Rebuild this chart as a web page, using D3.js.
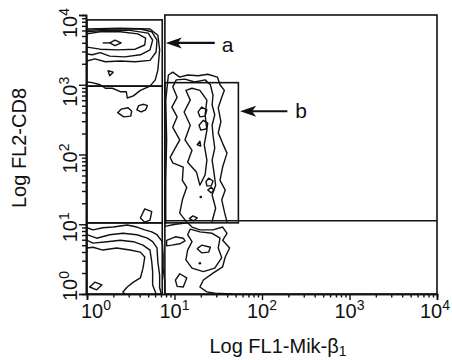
<!DOCTYPE html>
<html><head><meta charset="utf-8">
<script src="https://cdn.jsdelivr.net/npm/d3@7"></script>
<style>html,body{margin:0;padding:0;background:#fff;} svg{display:block;font-family:"Liberation Sans",Arial,sans-serif;}</style>
</head><body><svg id="c" width="452" height="360"></svg>
<script>
// ---- axes (log10 units) ----
const decades = [0, 1, 2, 3, 4];
const exponentLabels = ["0", "1", "2", "3", "4"];
const minorFactors = [2, 3, 4, 5, 6, 7, 8, 9];
const xTitle = "Log FL1-Mik-β";
const xTitleSub = "1";
const yTitle = "Log FL2-CD8";

// ---- gates [x0, x1, y0, y1] in log10 units ----
const gates = [
  [0, 0.86, 2.98, 3.93],   // a
  [0, 0.86, 1.02, 2.98],
  [0, 0.86, 0, 1.02],
  [0.89, 1.73, 1.02, 3.03], // b
  [0.89, 4.0, 0, 4.0]
];
const gateLine = [[0.89, 1.05], [4.0, 1.05]];

// ---- annotations ----
const arrowLabels = ["a", "b"];
const arrowY = [3.60, 2.62];
const arrowFrom = [1.46, 2.29];
const arrowTo = [0.90, 1.75];
const labelX = [1.54, 2.38];
const labelY = [3.47, 2.52];

// ---- contour lines (log10 FL1, log10 FL2) ----
const openContours = [
  // population a
  [[0,3.73],[0.15,3.76],[0.38,3.76],[0.58,3.73],[0.67,3.67],[0.66,3.57],[0.55,3.51],[0.35,3.50],[0.15,3.51],[0,3.54]],
  [[0,3.76],[0.21,3.78],[0.49,3.78],[0.70,3.74],[0.75,3.64],[0.72,3.50],[0.61,3.43],[0.43,3.40],[0.26,3.41],[0.15,3.46],[0.06,3.43],[0,3.44]],
  [[0,3.78],[0.26,3.80],[0.61,3.80],[0.74,3.76],[0.80,3.64],[0.79,3.47],[0.72,3.35],[0.55,3.33],[0.38,3.34],[0.21,3.33],[0.09,3.37],[0,3.34]],
  [[0,3.80],[0.38,3.81],[0.72,3.80],[0.81,3.71],[0.83,3.50],[0.81,3.21],[0.78,3.07],[0.72,2.98],[0.61,2.92],[0.53,2.84],[0.46,2.81],[0.45,2.90],[0.38,2.90],[0.29,2.95],[0.21,2.95],[0.15,3.00],[0.06,3.03],[0,3.04]],
  [[0.18,3.60],[0.26,3.60]],
  // population b
  [[0.90,1.00],[0.90,1.63],[0.91,2.21],[0.90,2.78],[0.93,3.14],[0.98,3.18],[1.06,3.11],[1.15,3.14],[1.27,3.13],[1.38,3.15],[1.49,3.11],[1.52,3.00],[1.57,2.92],[1.54,2.82],[1.50,2.67],[1.53,2.47],[1.50,2.31],[1.55,2.16],[1.60,2.02],[1.55,1.82],[1.52,1.63],[1.58,1.49],[1.54,1.35],[1.57,1.18],[1.60,1.03]],
  [[1.14,1.03],[1.06,1.16],[1.09,1.35],[1.14,1.53],[1.09,1.63],[1.10,1.82],[0.98,1.88],[0.95,1.96],[1.06,2.21],[0.98,2.39],[1.03,2.54],[0.97,2.68],[1.03,2.82],[0.98,2.97],[1.02,3.07],[1.12,3.08],[1.23,3.04],[1.35,3.07],[1.41,3.00],[1.44,2.85],[1.43,2.71],[1.46,2.57],[1.43,2.42],[1.44,2.28],[1.46,2.09],[1.43,1.92],[1.45,1.75],[1.47,1.56],[1.43,1.42],[1.47,1.23],[1.44,1.09],[1.43,1.03]],
  // double negative, bottom left
  [[0,0.95],[0.07,0.92],[0.18,0.95],[0.30,0.96],[0.46,0.99],[0.57,0.96],[0.66,0.92],[0.74,0.89],[0.80,0.85],[0.86,0.75],[0.87,0.56],[0.87,0.37],[0.89,0.17],[0.89,0]],
  [[0,0.85],[0.11,0.80],[0.26,0.85],[0.41,0.87],[0.57,0.85],[0.69,0.80],[0.75,0.75],[0.80,0.66],[0.81,0.46],[0.83,0.27],[0.83,0.09],[0.85,0]],
  [[0,0.77],[0.07,0.73],[0.23,0.75],[0.38,0.77],[0.53,0.75],[0.64,0.70],[0.72,0.63],[0.74,0.46],[0.75,0.32],[0.75,0.13],[0.79,0]],
  [[0,0.66],[0.07,0.67],[0.18,0.63],[0.34,0.66],[0.49,0.63],[0.61,0.60],[0.66,0.53],[0.64,0.37],[0.61,0.23],[0.53,0.17],[0.46,0.10],[0.41,0.03],[0.43,0]],
  // bottom, right of gate
  [[0.89,0.97],[1.01,1.00],[1.15,1.02],[1.20,0.96],[1.29,0.92],[1.44,0.92],[1.55,0.96],[1.60,0.87],[1.55,0.77],[1.63,0.66],[1.58,0.53],[1.55,0.39],[1.44,0.30],[1.33,0.20],[1.29,0.10],[1.37,0.03],[1.46,0.01],[1.66,0]]
];
const closedContours = [
  [[0.26,3.60],[0.32,3.64],[0.39,3.60],[0.32,3.56]],
  [[0.24,3.20],[0.30,3.18],[0.26,3.13]],
  [[0.35,2.60],[0.39,2.65],[0.47,2.67],[0.51,2.62],[0.50,2.55],[0.42,2.54]],
  [[0.57,2.64],[0.59,2.70],[0.65,2.72],[0.69,2.70],[0.67,2.64],[0.62,2.61]],
  [[0.61,1.09],[0.66,1.22],[0.74,1.18],[0.72,1.06],[0.66,1.03]],
  [[1.13,2.92],[1.18,2.78],[1.11,2.61],[1.18,2.42],[1.12,2.21],[1.20,2.06],[1.15,1.89],[1.25,1.75],[1.29,1.56],[1.35,1.71],[1.37,1.92],[1.34,2.14],[1.37,2.35],[1.35,2.57],[1.37,2.78],[1.29,2.92],[1.20,2.95]],
  [[1.27,2.61],[1.31,2.68],[1.37,2.64],[1.35,2.55],[1.29,2.54]],
  [[1.28,2.42],[1.33,2.49],[1.38,2.45],[1.37,2.37],[1.30,2.35]],
  [[1.36,1.61],[1.39,1.66],[1.44,1.62],[1.42,1.55],[1.37,1.55]],
  [[1.38,1.49],[1.42,1.53],[1.45,1.49],[1.42,1.45]],
  [[1.26,2.14],[1.29,2.19],[1.30,2.12]],
  [[1.17,1.08],[1.21,1.12],[1.26,1.09],[1.22,1.05]],
  [[0.03,0.10],[0.09,0.17],[0.17,0.13],[0.11,0.06]],
  [[1.18,0.93],[1.29,0.89],[1.43,0.87],[1.52,0.80],[1.50,0.66],[1.54,0.52],[1.46,0.37],[1.33,0.32],[1.20,0.37],[1.13,0.49],[1.15,0.63],[1.20,0.75],[1.15,0.85]],
  [[1.26,0.65],[1.31,0.70],[1.41,0.67],[1.39,0.60],[1.31,0.59]],
  [[1.01,0.20],[1.06,0.29],[1.14,0.23],[1.10,0.10],[1.03,0.11]],
  [[0.91,0.77],[1.01,0.82],[1.10,0.80],[1.12,0.76],[1.06,0.72],[0.97,0.70],[0.91,0.69]]
];
const dots = [[1.29,0.44],[1.30,1.39]];

// ---- drawing ----
const svg = d3.select("#c");
const x = d3.scaleLinear().domain([0, 4]).range([87, 437]);
const y = d3.scaleLinear().domain([0, 4]).range([294, 15]);
const ink = "#111";

const lineOpen = d3.line().x(d => x(d[0])).y(d => y(d[1]));
const lineClosed = d3.line().x(d => x(d[0])).y(d => y(d[1])).curve(d3.curveLinearClosed);

const g = svg.append("g");
g.selectAll("path.co").data(openContours).join("path")
  .attr("d", lineOpen).attr("fill", "none").attr("stroke", ink).attr("stroke-width", 1.4).attr("stroke-linejoin", "round");
g.selectAll("path.cc").data(closedContours).join("path")
  .attr("d", lineClosed).attr("fill", "none").attr("stroke", ink).attr("stroke-width", 1.4).attr("stroke-linejoin", "round");
g.selectAll("circle").data(dots).join("circle")
  .attr("cx", d => x(d[0])).attr("cy", d => y(d[1])).attr("r", 1.3).attr("fill", ink);

// gates
svg.selectAll("rect.gate").data(gates).join("rect")
  .attr("x", d => x(d[0])).attr("y", d => y(d[3]))
  .attr("width", d => x(d[1]) - x(d[0])).attr("height", d => y(d[2]) - y(d[3]))
  .attr("fill", "none").attr("stroke", ink).attr("stroke-width", 1.6);
svg.append("path").attr("d", lineOpen(gateLine)).attr("stroke", ink).attr("stroke-width", 1.6);

// axes
const xAxis = d3.axisBottom(x).tickValues(decades).tickSize(6).tickFormat("");
const yAxis = d3.axisLeft(y).tickValues(decades).tickSize(7).tickFormat("");
const minors = [];
decades.slice(0, -1).forEach(dd => minorFactors.forEach(f => minors.push(dd + Math.log10(f))));
const xAxisMinor = d3.axisBottom(x).tickValues(minors).tickSize(3.5).tickFormat("");
const yAxisMinor = d3.axisLeft(y).tickValues(minors).tickSize(4).tickFormat("");
[[xAxis, "translate(0,294)"], [xAxisMinor, "translate(0,294)"], [yAxis, "translate(86,0)"], [yAxisMinor, "translate(86,0)"]].forEach(([ax, tr]) => {
  const a = svg.append("g").attr("transform", tr).call(ax);
  a.selectAll("path.domain").attr("stroke", ink).attr("stroke-width", 1.6);
  a.selectAll(".tick line").attr("stroke", ink).attr("stroke-width", 1.4);
});

// tick labels 10^n
const xLabelShift = [9, 0, 0, 0, -2];
decades.forEach((dd, i) => {
  const t = svg.append("text").attr("x", x(dd) + xLabelShift[i]).attr("y", 318)
    .attr("text-anchor", "middle").attr("font-size", 20).attr("fill", ink);
  t.append("tspan").text("10");
  t.append("tspan").attr("font-size", 14).attr("dy", -8).text(exponentLabels[i]);
});
const yLabelShift = [-8, 3, 4, 7, 8];
decades.forEach((dd, i) => {
  const cy = y(dd) + yLabelShift[i];
  const t = svg.append("text").attr("transform", `translate(77,${cy}) rotate(-90)`)
    .attr("text-anchor", "middle").attr("font-size", 20).attr("fill", ink);
  t.append("tspan").text("10");
  t.append("tspan").attr("font-size", 14).attr("dy", -8).text(exponentLabels[i]);
});

// axis titles
const xt = svg.append("text").attr("x", 278).attr("y", 353).attr("text-anchor", "middle")
  .attr("font-size", 20).attr("fill", ink);
xt.append("tspan").text(xTitle);
xt.append("tspan").attr("font-size", 14).attr("dy", 3).text(xTitleSub);
svg.append("text").attr("transform", "translate(26,148) rotate(-90)").attr("text-anchor", "middle")
  .attr("font-size", 20).attr("fill", ink).text(yTitle);

// arrows
arrowLabels.forEach((lab, i) => {
  const yy = y(arrowY[i]), x0 = x(arrowFrom[i]), x1 = x(arrowTo[i]);
  svg.append("line").attr("x1", x0).attr("x2", x1 + 8).attr("y1", yy).attr("y2", yy)
    .attr("stroke", ink).attr("stroke-width", 2.2);
  svg.append("path").attr("d", `M${x1},${yy} L${x1 + 16},${yy - 5.5} L${x1 + 12},${yy} L${x1 + 16},${yy + 5.5} Z`).attr("fill", ink);
  svg.append("text").attr("x", x(labelX[i])).attr("y", y(labelY[i])).attr("font-size", 21).attr("fill", ink).text(lab);
});
</script></body></html>
